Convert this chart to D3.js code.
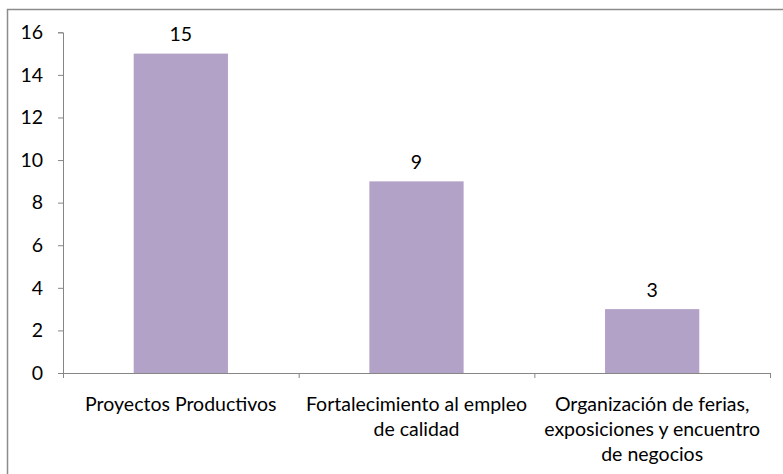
<!DOCTYPE html>
<html><head><meta charset="utf-8">
<script src="https://cdn.jsdelivr.net/npm/d3@7"></script>
<style>body{margin:0;background:#fff}svg{display:block}text{font-family:Lato,"Open Sans",sans-serif;fill:#000}</style>
</head><body><svg width="783" height="474"></svg>
<script>
const categories = [["Proyectos Productivos"],["Fortalecimiento al empleo","de calidad"],["Organización de ferias,","exposiciones y encuentro","de negocios"]];
const values = [15, 9, 3];
const yTicks = [0,2,4,6,8,10,12,14,16];
const FS = 19.5;

const svg = d3.select("svg");
svg.append("rect").attr("x",7.5).attr("y",9.5).attr("width",800).attr("height",500)
  .attr("fill","none").attr("stroke","#8c8c8c").attr("stroke-width",1.5);

const x0 = 63, x1 = 770, yTop = 32.3, yBot = 373;
const x = d3.scaleBand().domain(d3.range(categories.length)).range([x0,x1]).padding(0);
const y = d3.scaleLinear().domain([0,16]).range([yBot,yTop]);
const bw = x.bandwidth()*0.4;

const g = svg.append("g");
g.selectAll("rect.bar").data(values).join("rect").attr("class","bar")
  .attr("x",(d,i)=>x(i)+x.bandwidth()/2-bw/2).attr("width",bw)
  .attr("y",d=>y(d)).attr("height",d=>yBot-y(d)).attr("fill","#B3A2C7");

g.selectAll("text.val").data(values).join("text").attr("class","val")
  .attr("x",(d,i)=>x(i)+x.bandwidth()/2).attr("y",d=>y(d)-20)
  .attr("text-anchor","middle").attr("dominant-baseline","central")
  .attr("font-size",FS).text(d=>d);

// y axis
const ya = d3.axisLeft(y).tickValues(yTicks).tickSize(5).tickPadding(15);
const yg = svg.append("g").attr("transform",`translate(${x0},0)`).call(ya);
yg.select(".domain").attr("stroke","#868686");
yg.selectAll(".tick line").attr("stroke","#868686");
yg.selectAll(".tick text").attr("font-size",FS).attr("font-family","Lato,sans-serif").attr("fill","#000");

// x axis
const xa = d3.axisBottom(d3.scaleLinear().domain([0,categories.length]).range([x0,x1]))
  .tickValues(d3.range(categories.length+1)).tickSize(5).tickFormat("");
const xg = svg.append("g").attr("transform",`translate(0,${yBot})`).call(xa);
xg.select(".domain").attr("stroke","#868686");
xg.selectAll(".tick line").attr("stroke","#868686");

const lab = svg.append("g");
categories.forEach((lines,i)=>{
  const t = lab.append("text").attr("text-anchor","middle").attr("font-size",FS);
  lines.forEach((l,j)=>{
    t.append("tspan").attr("x",x(i)+x.bandwidth()/2).attr("y",yBot+38+j*25).text(l);
  });
});
</script></body></html>
